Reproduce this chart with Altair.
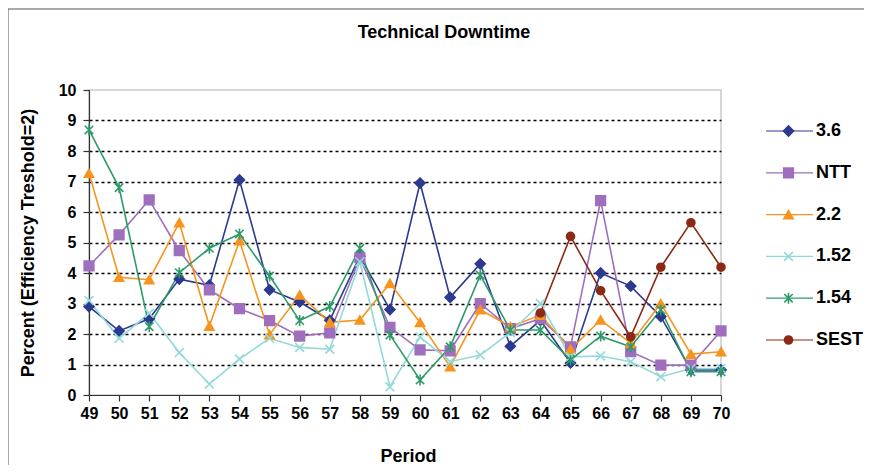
import altair as alt
import pandas as pd

chart_title = ["Technical Downtime"]
periods = list(range(49, 71))
y_ticks = list(range(0, 11))
series_names = ["3.6", "NTT", "2.2", "1.52", "1.54", "SEST"]

v_36 = [2.9, 2.1, 2.5, 3.8, 3.6, 7.05, 3.45, 3.05, 2.45, 4.55, 2.8, 6.95, 3.2, 4.3, 1.6, 2.45, 1.05, 4.0, 3.57, 2.57, 0.82, 0.82]
v_ntt = [4.23, 5.25, 6.4, 4.73, 3.45, 2.83, 2.44, 1.93, 2.04, 4.5, 2.22, 1.48, 1.45, 3.0, 2.18, 2.5, 1.58, 6.37, 1.42, 0.98, 0.98, 2.1]
v_22 = [7.27, 3.86, 3.78, 5.65, 2.26, 5.06, 1.98, 3.28, 2.38, 2.46, 3.66, 2.38, 0.93, 2.8, 2.24, 2.62, 1.5, 2.46, 1.7, 3.0, 1.34, 1.42]
v_152 = [3.1, 1.86, 2.68, 1.39, 0.36, 1.18, 1.86, 1.56, 1.5, 4.37, 0.27, 1.9, 1.09, 1.31, 2.05, 3.0, 1.25, 1.28, 1.09, 0.6, 0.87, 0.87]
v_154 = [8.69, 6.8, 2.24, 4.01, 4.81, 5.28, 3.9, 2.44, 2.9, 4.81, 1.97, 0.49, 1.58, 3.93, 2.13, 2.13, 1.15, 1.93, 1.58, 2.79, 0.76, 0.76]
v_sest = [None] * 15 + [2.69, 5.2, 3.42, 1.91, 4.19, 5.65, 4.19]

colors = ["#2B3A8F", "#9F6FBE", "#F7941D", "#93D9D9", "#2E9A6A", "#8B2A14"]
shapes = ["diamond", "square", "triangle-up", "M-1,-1L1,1M-1,1L1,-1",
          "M-1,-1L1,1M-1,1L1,-1M0,-1.3L0,1.3", "circle"]
sizes = [100, 64, 115, 70, 80, 115]

rows = []
for name, vals in zip(series_names, [v_36, v_ntt, v_22, v_152, v_154, v_sest]):
    for p, v in zip(periods, vals):
        if v is not None:
            rows.append({"period": p, "value": v, "series": name})
df = pd.DataFrame(rows)
leg = pd.DataFrame({"series": series_names, "idx": list(range(len(series_names)))})

FONT = "Liberation Sans"
cscale = alt.Scale(domain=series_names, range=colors)
shscale = alt.Scale(domain=series_names, range=shapes)
szscale = alt.Scale(domain=series_names, range=sizes)
xscale = alt.Scale(domain=[49, 70], nice=False, zero=False)
yscale = alt.Scale(domain=[0, 10], nice=False)

x_axis = alt.Axis(values=periods, tickCount=len(periods), format="d", tickSize=6,
                  labelPadding=4, labelOverlap=False, labelFlush=False,
                  labelBound=False, grid=False, title="Period", titleX=319,
                  titleY=61, titleBaseline="middle", titleAlign="center")
y_axis = alt.Axis(values=y_ticks, tickCount=len(y_ticks), tickSize=6, labelPadding=7,
                  labelOverlap=False, labelFlush=False, labelBound=False,
                  grid=True, gridColor="black", gridDash=[3, 3], gridWidth=1.5,
                  gridOpacity=alt.condition("datum.value >= 10 || datum.value <= 0",
                                            alt.value(0), alt.value(1)),
                  title="Percent (Efficiency Treshold=2)", titleAngle=270,
                  titleX=-61, titleY=152.5, titleBaseline="middle",
                  titleAlign="center")
x_enc = alt.X("period:Q", scale=xscale, axis=x_axis)
y_enc = alt.Y("value:Q", scale=yscale, axis=y_axis)

one = pd.DataFrame({"t": chart_title})
border_top = alt.Chart(one).mark_rule(color="#555555", strokeWidth=1).encode(
    x=alt.value(-81), x2=alt.value(775), y=alt.value(-81))
border_left = alt.Chart(one).mark_rule(color="#555555", strokeWidth=1).encode(
    x=alt.value(-81), y=alt.value(-81), y2=alt.value(375))
title_txt = alt.Chart(one).mark_text(font=FONT, fontSize=18, fontWeight="bold",
                                     color="black", align="center", baseline="middle").encode(
    x=alt.value(355), y=alt.value(-57), text="t:N")

lines = alt.Chart(df).mark_line(strokeWidth=1.6).encode(
    x=x_enc, y=y_enc,
    color=alt.Color("series:N", scale=cscale, legend=None),
    order="period:Q",
)

points = alt.Chart(df).mark_point(opacity=1, strokeWidth=1.6).encode(
    x=x_enc, y=y_enc,
    shape=alt.Shape("series:N", scale=shscale, legend=None),
    size=alt.Size("series:N", scale=szscale, legend=None),
    fill=alt.Fill("series:N", scale=cscale, legend=None),
    stroke=alt.Stroke("series:N", scale=cscale, legend=None),
)

leg_base = alt.Chart(leg).transform_calculate(ly="41 + datum.idx * 41.8")
leg_rule = leg_base.mark_rule(strokeWidth=1.2).encode(
    x=alt.value(677), x2=alt.value(724), y=alt.Y("ly:Q", scale=None),
    color=alt.Color("series:N", scale=cscale, legend=None),
)
leg_pt = leg_base.mark_point(opacity=1, strokeWidth=1.6).encode(
    x=alt.value(699.5), y=alt.Y("ly:Q", scale=None),
    shape=alt.Shape("series:N", scale=shscale, legend=None),
    size=alt.Size("series:N", scale=szscale, legend=None),
    fill=alt.Fill("series:N", scale=cscale, legend=None),
    stroke=alt.Stroke("series:N", scale=cscale, legend=None),
)
leg_txt = leg_base.mark_text(align="left", baseline="middle", font=FONT, fontWeight="bold",
                             fontSize=18, color="black").encode(
    x=alt.value(727), y=alt.Y("ly:Q", scale=None), text="series:N"
)

chart = alt.layer(border_top, border_left, title_txt, lines, points,
                  leg_rule, leg_pt, leg_txt).properties(
    width=632, height=305,
    autosize=alt.AutoSizeParams(type="none"),
    padding={"left": 81, "top": 82, "right": 143, "bottom": 70},
).configure_view(stroke="#C5CCCC", strokeWidth=1.5).configure_axis(
    labelFont=FONT, labelFontWeight="bold", labelFontSize=16, labelColor="black",
    titleFont=FONT, titleFontWeight="bold", titleFontSize=18, titleColor="black",
    domainColor="#333333", tickColor="#333333", domainWidth=1.2, tickWidth=1.2,
)

chart.save("out.html", embed_options={"renderer": "svg", "actions": False})
